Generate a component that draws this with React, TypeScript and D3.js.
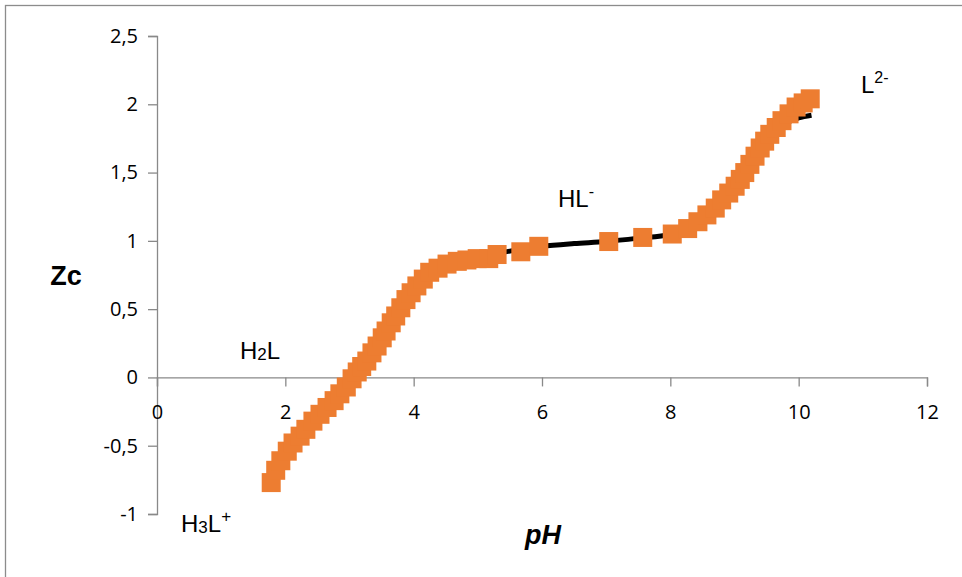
import React, { useEffect, useRef } from 'react';
import * as d3 from 'd3';

const phValues = [
  1.78, 1.85, 1.93, 2.03, 2.12, 2.23, 2.32, 2.43, 2.54, 2.65, 2.76, 2.85, 2.95, 3.04,
  3.12, 3.19, 3.27, 3.35, 3.43, 3.51, 3.57, 3.65, 3.72, 3.8, 3.88, 3.96, 4.05, 4.15,
  4.25, 4.38, 4.52, 4.68, 4.83, 4.99, 5.17, 5.3,
  5.67, 5.95, 7.04, 7.57, 8.03,
  8.27, 8.43, 8.57, 8.7, 8.8, 8.91, 9.01, 9.09, 9.16, 9.24, 9.32, 9.4, 9.47, 9.55,
  9.65, 9.74, 9.85, 9.96, 10.07, 10.18,
];
const zcValues = [
  -0.77, -0.68, -0.61, -0.54, -0.48, -0.43, -0.38, -0.32, -0.27, -0.22, -0.17, -0.12, -0.07, -0.01,
  0.04, 0.08, 0.12, 0.18, 0.23, 0.29, 0.34, 0.4, 0.45, 0.51, 0.57, 0.62, 0.67, 0.72,
  0.77, 0.8, 0.83, 0.85, 0.86, 0.87, 0.87, 0.9,
  0.92, 0.96, 0.995, 1.025, 1.05,
  1.09, 1.14, 1.19, 1.24, 1.3, 1.35, 1.4, 1.45, 1.5, 1.56, 1.62, 1.68, 1.73, 1.78,
  1.83, 1.88, 1.93, 1.98, 2.01, 2.04,
];

// calculated curve (black line)
const fitPh = [1.78, 2.0, 2.5, 3.0, 3.5, 4.0, 4.5, 5.0, 5.5, 6.0, 6.5, 7.0, 7.5, 8.0, 8.5, 9.0, 9.5, 9.8, 10.0, 10.2];
const fitZc = [-0.77, -0.56, -0.29, -0.04, 0.28, 0.62, 0.82, 0.88, 0.925, 0.96, 0.98, 0.995, 1.02, 1.05, 1.16, 1.39, 1.73, 1.86, 1.9, 1.92];

const xTicks = [0, 2, 4, 6, 8, 10, 12];
const yTicks = [-1, -0.5, 0, 0.5, 1, 1.5, 2, 2.5];

const W = 962;
const H = 577;
const labelFont = '"Open Sans", sans-serif';
const arial = '"Liberation Sans", Arial, sans-serif';

export default function App() {
  const ref = useRef<SVGSVGElement | null>(null);

  useEffect(() => {
    const svg = d3.select(ref.current);
    svg.selectAll('*').remove();

    const x = d3.scaleLinear().domain([0, 12]).range([157, 927]);
    const y = d3.scaleLinear().domain([-1, 2.5]).range([514, 36]);
    const fmt = (d: d3.NumberValue) => String(d).replace('.', ',');

    // outer frame
    svg.append('rect')
      .attr('x', 5.5).attr('y', 5.5)
      .attr('width', 1000).attr('height', 1000)
      .attr('fill', 'white')
      .attr('stroke', '#8c8c8c')
      .attr('stroke-width', 1.3);

    const yAxis = svg.append('g')
      .attr('transform', `translate(${x(0)},0)`)
      .call(d3.axisLeft(y).tickValues(yTicks).tickSize(9).tickSizeOuter(9).tickPadding(10).tickFormat(fmt));

    const xAxis = svg.append('g')
      .attr('transform', `translate(0,${y(0)})`)
      .call(d3.axisBottom(x).tickValues(xTicks).tickSize(9).tickSizeOuter(9).tickPadding(18).tickFormat(fmt));

    [xAxis, yAxis].forEach(g => {
      g.select('.domain').attr('stroke', '#898989').attr('stroke-width', 1.3);
      g.selectAll('.tick line').attr('stroke', '#898989').attr('stroke-width', 1.3);
      g.selectAll('.tick text')
        .attr('fill', '#000')
        .attr('font-family', labelFont)
        .attr('font-size', 20);
    });

    // black calculated curve
    const fit = fitPh.map((p, i) => [p, fitZc[i]] as [number, number]);
    svg.append('path')
      .datum(fit)
      .attr('fill', 'none')
      .attr('stroke', '#000')
      .attr('stroke-width', 5)
      .attr('d', d3.line<[number, number]>()
        .x(d => x(d[0]))
        .y(d => y(d[1]))
        .curve(d3.curveCatmullRom));

    // experimental squares
    const sz = 19;
    svg.append('g')
      .selectAll('rect')
      .data(phValues.map((p, i) => [p, zcValues[i]]))
      .join('rect')
      .attr('x', d => x(d[0]) - sz / 2)
      .attr('y', d => y(d[1]) - sz / 2)
      .attr('width', sz)
      .attr('height', sz)
      .attr('fill', '#ED7D31');

    // axis titles
    svg.append('text')
      .attr('x', 66).attr('y', 285)
      .attr('text-anchor', 'middle')
      .attr('font-family', arial)
      .attr('font-weight', 'bold')
      .attr('font-size', 27)
      .text('Zc');

    svg.append('text')
      .attr('x', 543).attr('y', 544)
      .attr('text-anchor', 'middle')
      .attr('font-family', arial)
      .attr('font-weight', 'bold')
      .attr('font-style', 'italic')
      .attr('font-size', 27)
      .text('pH');

    // species labels
    const species = svg.append('g')
      .attr('font-family', arial)
      .attr('font-size', 24)
      .attr('fill', '#000');

    const h2l = species.append('text').attr('x', 240).attr('y', 359);
    h2l.append('tspan').text('H');
    h2l.append('tspan').attr('font-size', 17).attr('dy', 1).text('2');
    h2l.append('tspan').attr('dy', -1).text('L');

    const hl = species.append('text').attr('x', 558).attr('y', 207);
    hl.append('tspan').text('HL');
    hl.append('tspan').attr('font-size', 16).attr('dy', -10).text('-');

    const l2 = species.append('text').attr('x', 861).attr('y', 93);
    l2.append('tspan').text('L');
    l2.append('tspan').attr('font-size', 16).attr('dy', -10).text('2-');

    const h3l = species.append('text').attr('x', 181).attr('y', 532);
    h3l.append('tspan').text('H');
    h3l.append('tspan').attr('font-size', 17).attr('dy', 1).text('3');
    h3l.append('tspan').attr('dy', -1).text('L');
    h3l.append('tspan').attr('font-size', 17).attr('dy', -10).text('+');
  }, []);

  return (
    <svg
      ref={ref}
      width={W}
      height={H}
      style={{ position: 'absolute', left: 0, top: 0, background: '#fff' }}
    />
  );
}
